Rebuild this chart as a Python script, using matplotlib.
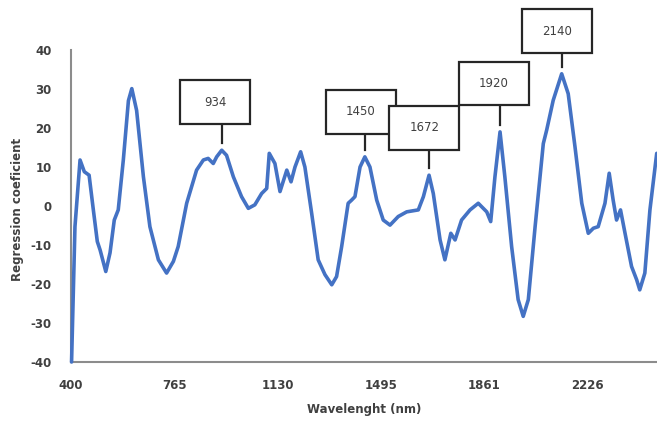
import matplotlib
matplotlib.use("Agg")
import matplotlib.pyplot as plt
from matplotlib.patches import Rectangle

plt.rcParams["axes.unicode_minus"] = False

# ---- data ----
wavelength = [402, 414, 432, 447, 464, 479, 493, 503, 523, 538, 553, 567, 585, 603, 615, 632,
              656, 679, 709, 738, 762, 779, 809, 844, 868, 885, 903, 915, 933, 950, 974,
              1003, 1027, 1050, 1074, 1092, 1101, 1121, 1139, 1163, 1178, 1192, 1212, 1227,
              1251, 1274, 1298, 1322, 1339, 1357, 1380, 1392, 1404, 1422, 1439, 1457, 1481,
              1504, 1528, 1557, 1587, 1628, 1646, 1666, 1681, 1705, 1722, 1743, 1758, 1781,
              1811, 1840, 1870, 1884, 1899, 1917, 1934, 1958, 1981, 1999, 2017, 2041, 2070,
              2082, 2105, 2135, 2158, 2182, 2206, 2229, 2247, 2264, 2288, 2303, 2317, 2329,
              2343, 2359, 2382, 2400, 2411, 2429, 2447, 2471]
coef = [-40, -5.3, 11.8, 8.8, 7.9, -1, -9.1, -11.3, -16.8, -12, -3.6, -1, 11.8, 27, 30.1, 24.5,
        7.5, -5.3, -13.8, -17.2, -14.2, -10.4, 0.7, 9.2, 11.8, 12.2, 10.9, 12.6, 14.3, 13, 7.5,
        2.4, -0.6, 0.3, 3.2, 4.5, 13.5, 10.9, 3.7, 9.2, 6.2, 10, 13.9, 10,
        -1.9, -13.8, -17.6, -20.2, -18.1, -10.4, 0.7, 1.5, 2.4, 10, 12.6, 10, 1.5,
        -3.6, -4.9, -2.7, -1.5, -1, 2.4, 7.9, 3.2, -8.7, -13.8, -7, -8.7, -3.6,
        -1, 0.7, -1.5, -4, 7.5, 19, 7.5, -10.4, -24, -28.3, -24, -5.3, 16,
        19.5, 27.1, 33.9, 28.8, 15.2, 0.7, -7, -5.7, -5.3, 0.7, 8.4, 1.5, -3.6,
        -1, -7, -15.5, -18.9, -21.5, -17.2, -1, 13.5]
x_ticks = [400, 765, 1130, 1495, 1861, 2226]
y_ticks = [-40, -30, -20, -10, 0, 10, 20, 30, 40]
peak_labels = ["934", "1450", "1672", "1920", "2140"]
peak_x = [933, 1439, 1666, 1917, 2135]
peak_y = [14.3, 12.6, 7.9, 19.0, 33.9]
box_x = [909, 1425, 1649, 1894, 2119]
box_y = [26.6, 24.2, 20.1, 31.4, 44.8]

# ---- figure ----
fig = plt.figure(figsize=(6.57, 4.23), dpi=100)
ax = fig.add_axes([71 / 657, 1 - 362 / 423, 1 - 71 / 657, (362 - 50) / 423])

ax.plot(wavelength, coef, color="#4472C4", lw=2.6, solid_joinstyle="round",
        solid_capstyle="round", clip_on=False, zorder=3)

ax.set_xlim(400, 2472)
ax.set_ylim(-40, 40)
ax.set_xticks(x_ticks)
ax.set_yticks(y_ticks)
for s in ["top", "right"]:
    ax.spines[s].set_visible(False)
for s in ["left", "bottom"]:
    ax.spines[s].set_color("#8c8c8c")
    ax.spines[s].set_linewidth(1.5)
ax.tick_params(axis="both", length=0, labelsize=8.5, labelcolor="#404040")
ax.tick_params(axis="x", pad=12)
ax.tick_params(axis="y", pad=14)
for lab in ax.get_xticklabels() + ax.get_yticklabels():
    lab.set_fontweight("bold")

ax.set_xlabel("Wavelenght (nm)", fontsize=8.5, fontweight="bold", color="#404040", labelpad=8)
ax.set_ylabel("Regression coeficient", fontsize=8.5, fontweight="bold", color="#404040")
ax.yaxis.set_label_coords(-0.081, 0.49)

# annotation boxes
bw = 70 * 3.5354  # box width in nm
bh = 44 / 3.91    # box height in data units
gap = 1.8
for lab, px, py, bx, by in zip(peak_labels, peak_x, peak_y, box_x, box_y):
    ax.plot([px, px], [by - bh / 2, py + gap], color="#262626", lw=1.6, clip_on=False, zorder=4)
    ax.add_patch(Rectangle((bx - bw / 2, by - bh / 2), bw, bh, facecolor="white",
                           edgecolor="#262626", lw=1.6, clip_on=False, zorder=5))
    ax.text(bx, by, lab, ha="center", va="center", fontsize=8.5, color="#404040",
            clip_on=False, zorder=6)

fig.savefig("out.png", dpi=100)
